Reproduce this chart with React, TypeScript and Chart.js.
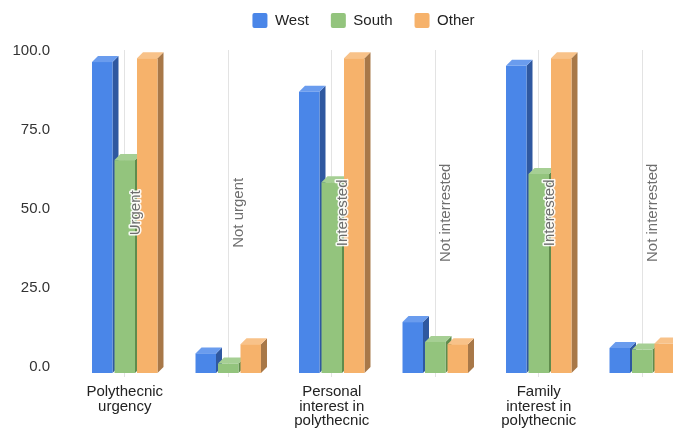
import React, { useEffect, useRef } from "react";
import { Chart, registerables } from "chart.js";

Chart.register(...registerables);

const categories: (string | string[])[] = [
  ["Polythecnic", "urgency"],
  "",
  ["Personal", "interest in", "polythecnic"],
  "",
  ["Family", "interest in", "polythecnic"],
  "",
];
const annotations = ["Urgent", "Not urgent", "Interested", "Not interrested", "Interested", "Not interrested"];
const seriesNames = ["West", "South", "Other"];
const westValues = [98.3, 6.2, 88.9, 16.1, 97.1, 7.9];
const southValues = [67.3, 3.0, 60.3, 9.8, 62.9, 7.4];
const otherValues = [99.5, 9.1, 99.5, 9.1, 99.5, 9.3];
const yTickValues = [0, 25, 50, 75, 100];

const FRONT = ["#4a86e8", "#93c47d", "#f6b26b"];
const TOP = ["#6a9cee", "#a6cf94", "#f8c289"];
const SIDE = ["#2f58a0", "#5f8c4d", "#a87848"];
const DEPTH = 6;
const FONT = "'Liberation Sans', Arial, sans-serif";
const LEGEND_SHIFT = 33;

const bars3d = {
  id: "bars3d",
  afterLayout(chart: any) {
    if (chart.legend) chart.legend.left = chart.legend.left + LEGEND_SHIFT;
  },
  beforeDatasetsDraw(chart: any) {
    const ctx = chart.ctx;
    const count = chart.data.labels.length;
    ctx.save();
    for (let i = 0; i < count; i++) {
      for (let d = 0; d < chart.data.datasets.length; d++) {
        if (!chart.isDatasetVisible(d)) continue;
        const el = chart.getDatasetMeta(d).data[i];
        if (!el) continue;
        const { x, y, base, width } = el.getProps(["x", "y", "base", "width"], true);
        const x0 = x - width / 2;
        const x1 = x + width / 2;
        ctx.fillStyle = SIDE[d];
        ctx.beginPath();
        ctx.moveTo(x1, y);
        ctx.lineTo(x1 + DEPTH, y - DEPTH);
        ctx.lineTo(x1 + DEPTH, base - DEPTH);
        ctx.lineTo(x1, base);
        ctx.closePath();
        ctx.fill();
        ctx.fillStyle = TOP[d];
        ctx.beginPath();
        ctx.moveTo(x0, y);
        ctx.lineTo(x0 + DEPTH, y - DEPTH);
        ctx.lineTo(x1 + DEPTH, y - DEPTH);
        ctx.lineTo(x1, y);
        ctx.closePath();
        ctx.fill();
        ctx.fillStyle = FRONT[d];
        ctx.fillRect(x0, y, width, base - y);
      }
    }
    ctx.restore();
    return false;
  },
  afterDraw(chart: any) {
    const ctx = chart.ctx;
    const xs = chart.scales.x;
    const ys = chart.scales.y;
    ctx.save();
    ctx.font = `15px ${FONT}`;
    ctx.textAlign = "center";
    ctx.textBaseline = "middle";
    ctx.lineJoin = "round";
    annotations.forEach((txt, i) => {
      const x = xs.getPixelForValue(i) + 11;
      const y = ys.getPixelForValue(50) - 2;
      ctx.save();
      ctx.translate(x, y);
      ctx.rotate(-Math.PI / 2);
      ctx.strokeStyle = "rgba(255,255,255,0.9)";
      ctx.lineWidth = 3;
      ctx.strokeText(txt, 0, 0);
      ctx.fillStyle = "#6e6e6e";
      ctx.fillText(txt, 0, 0);
      ctx.restore();
    });
    ctx.restore();
  },
};

export default function App() {
  const ref = useRef<HTMLCanvasElement>(null);
  useEffect(() => {
    const canvas = ref.current!;
    const chart = new Chart(canvas, {
      type: "bar",
      data: {
        labels: categories,
        datasets: [
          { label: seriesNames[0], data: westValues, backgroundColor: FRONT[0], borderWidth: 0 },
          { label: seriesNames[1], data: southValues, backgroundColor: FRONT[1], borderWidth: 0 },
          { label: seriesNames[2], data: otherValues, backgroundColor: FRONT[2], borderWidth: 0 },
        ],
      },
      options: {
        responsive: false,
        animation: false,
        devicePixelRatio: 1,
        layout: { padding: { top: -9, left: 0, right: 0, bottom: 0 } },
        datasets: { bar: { categoryPercentage: 0.652, barPercentage: 0.911 } },
        plugins: {
          legend: {
            position: "top",
            labels: {
              boxWidth: 15,
              boxHeight: 15,
              padding: 22,
              color: "#222",
              font: { size: 15, family: FONT },
              useBorderRadius: true,
              borderRadius: 2,
            },
          },
          subtitle: {
            display: true,
            text: " ",
            font: { size: 1, lineHeight: 1 },
            padding: { top: 0, bottom: 11 },
            weight: 500,
          },
          tooltip: { enabled: false },
        },
        scales: {
          x: {
            offset: true,
            grid: { offset: false, color: "#e3e3e3", drawTicks: true, tickLength: 4 },
            border: { display: false },
            ticks: {
              color: "#222",
              font: { size: 15, family: FONT, lineHeight: 0.95 },
              padding: 8,
              maxRotation: 0,
              autoSkip: false,
            },
            afterFit: (s: any) => {
              s.height = 56;
            },
          },
          y: {
            min: 0,
            max: 102.1,
            grid: { display: false, drawTicks: false },
            border: { display: false },
            afterBuildTicks: (s: any) => {
              s.ticks = yTickValues.map((v) => ({ value: v }));
            },
            ticks: {
              color: "#333",
              font: { size: 15, family: FONT },
              padding: 23,
              labelOffset: -6,
              callback: (v: any) => Number(v).toFixed(1),
            },
            afterFit: (s: any) => {
              s.width = 73;
            },
          },
        },
      } as any,
      plugins: [bars3d],
    });
    return () => chart.destroy();
  }, []);
  return (
    <div
      style={{
        position: "fixed",
        left: 0,
        top: 0,
        width: 673,
        height: 429,
        overflow: "hidden",
        background: "#fff",
      }}
    >
      <canvas ref={ref} width={694} height={429} style={{ display: "block", width: 694, height: 429 }} />
    </div>
  );
}
